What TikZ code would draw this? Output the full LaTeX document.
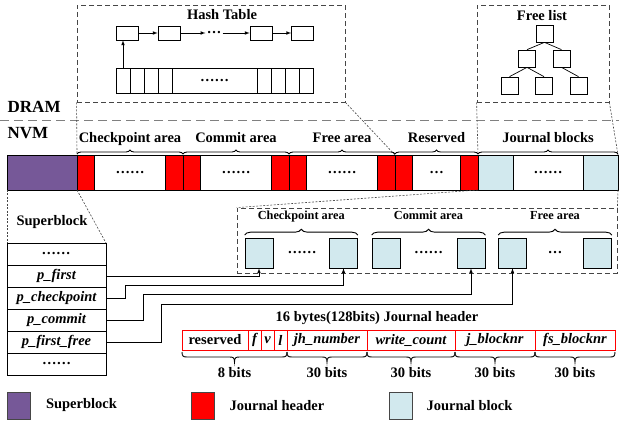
\documentclass[tikz,border=0pt]{standalone}
\usepackage{fontspec}
\setmainfont{Liberation Serif}
\usetikzlibrary{arrows,positioning,decorations.pathreplacing}
\definecolor{sbpurple}{RGB}{118,88,152}
\definecolor{jblue}{RGB}{210,233,238}
\definecolor{dgray}{RGB}{70,70,70}
\newcommand{\mainfs}{\fontsize{14.5}{17}\selectfont}
\newcommand{\bigfs}{\fontsize{17}{20}\selectfont}
\newcommand{\smallfs}{\fontsize{12.3}{14}\selectfont}
\newcommand{\bitbrace}[2]{\draw[line width=0.9pt] (#1,352) .. controls (#1,356.5) and ({#1+1.5},357) .. ({#1+5},357) -- ({(#1+#2)/2-5},357) .. controls ({(#1+#2)/2-1.5},357) and ({(#1+#2)/2},357.5) .. ({(#1+#2)/2},362) .. controls ({(#1+#2)/2},357.5) and ({(#1+#2)/2+1.5},357) .. ({(#1+#2)/2+5},357) -- ({#2-5},357) .. controls ({#2-1.5},357) and (#2,356.5) .. (#2,352);}

\begin{document}
\begin{tikzpicture}[x=1pt,y=-1pt,line width=0.7pt,font=\bfseries\mainfs]
\tikzstyle{cell}=[rectangle, draw=black, minimum height=35pt, inner sep=0pt, outer sep=0pt]
\tikzstyle{hdr}=[cell, fill=red, minimum width=17.5pt]
\tikzstyle{blk}=[cell, fill=jblue, minimum width=35pt]
\tikzstyle{gap}=[cell, fill=white, minimum width=71pt]
\tikzstyle{dbox}=[rectangle, draw=dgray, dash pattern=on 5pt off 3pt, line width=0.8pt]
\tikzstyle{dotln}=[draw=dgray, dash pattern=on 2pt off 1.5pt, line width=0.6pt]
\tikzstyle{brc}=[decorate, decoration={brace, amplitude=4pt, raise=1pt}, line width=0.9pt]
\tikzstyle{key}=[rectangle, draw=black, minimum width=22pt, minimum height=14pt, inner sep=0pt]
\tikzstyle{slot}=[rectangle, draw=black, minimum width=14pt, minimum height=25pt, inner sep=0pt, outer sep=0pt]
\tikzstyle{leaf}=[rectangle, draw=black, minimum width=17pt, minimum height=17pt, inner sep=0pt]
\tikzstyle{row}=[rectangle, draw=black, minimum width=99pt, minimum height=22pt, inner sep=0pt, outer sep=0pt, font=\bfseries\itshape\mainfs]
\tikzstyle{jb}=[rectangle, draw=black, fill=jblue, minimum width=28pt, minimum height=30pt, inner sep=0pt]
\tikzstyle{fld}=[rectangle, draw=red, minimum height=20pt, inner sep=0pt, outer sep=0pt, font=\bfseries\itshape\mainfs]
\tikzstyle{lgd}=[rectangle, draw=dgray, minimum width=23pt, minimum height=27pt]
\useasboundingbox (0,0) rectangle (619,422);

\node (dram) [anchor=west, font=\bfseries\bigfs] at (4,107) {DRAM};
\node (nvm) [anchor=west, font=\bfseries\bigfs] at (4,133) {NVM};
\draw[draw=gray, dash pattern=on 9pt off 5pt, line width=0.9pt] (0,120) -- (619,120);

\node (hashbox) [dbox, minimum width=268pt, minimum height=97pt] at (211,53.5) {};
\node (hashtitle) at (222,15) {Hash Table};
\node (k1) [key] at (127,33) {};
\node (k2) [key] at (169,33) {};
\node (hd) [inner sep=1pt] at (214,33) {…};
\node (k3) [key] at (261,33) {};
\node (k4) [key] at (302.5,33) {};
\draw[-latex] (k1) -- (k2);
\draw[-latex] (k2) -- (k2 -| hd.west);
\draw[-latex] (k3 -| hd.east) -- (k3);
\draw[-latex] (k3) -- (k4);
\node (a1) [slot] at (123,80.5) {};
\node (a2) [slot, right=0pt of a1] {};
\node (a3) [slot, right=0pt of a2] {};
\node (a4) [slot, right=0pt of a3] {};
\node (a5) [slot, minimum width=85pt, right=0pt of a4] {……};
\node (a6) [slot, right=0pt of a5] {};
\node (a7) [slot, right=0pt of a6] {};
\node (a8) [slot, right=0pt of a7] {};
\node (a9) [slot, right=0pt of a8] {};
\draw[-latex] (a1.north) -- (a1.north |- k1.south);

\node (freebox) [dbox, minimum width=132pt, minimum height=97pt] at (543,53.5) {};
\node (freetitle) at (542,15.5) {Free list};
\node (t0) [leaf] at (544.5,33.5) {};
\node (t1) [leaf] at (527,58.5) {};
\node (t2) [leaf] at (561.5,58.5) {};
\node (t3) [leaf] at (509.5,85.5) {};
\node (t4) [leaf] at (544,85.5) {};
\node (t5) [leaf] at (578.5,85.5) {};
\draw (t0.south) -- (t1.north);
\draw (t0.south) -- (t2.north);
\draw (t1.south) -- (t3.north);
\draw (t1.south) -- (t4.north);
\draw (t2.south) -- (t5.north);

\node (sb) [cell, fill=sbpurple, minimum width=70pt] at (42,172.5) {};
\node (h1) [hdr, right=0pt of sb] {};
\node (c1) [gap, right=0pt of h1] {……};
\node (h2) [hdr, right=0pt of c1] {};
\node (h3) [hdr, right=0pt of h2] {};
\node (c2) [gap, right=0pt of h3] {……};
\node (h4) [hdr, right=0pt of c2] {};
\node (h5) [hdr, right=0pt of h4] {};
\node (c3) [gap, right=0pt of h5] {……};
\node (h6) [hdr, right=0pt of c3] {};
\node (h7) [hdr, right=0pt of h6] {};
\node (c4) [gap, minimum width=48pt, right=0pt of h7] {…};
\node (h8) [hdr, right=0pt of c4] {};
\node (b1) [blk, right=0pt of h8] {};
\node (c5) [gap, minimum width=70pt, right=0pt of b1] {……};
\node (b2) [blk, right=0pt of c5] {};

\draw[brc] (h1.north west) -- (h3.north west) node (lchk) [midway, anchor=base, yshift=12pt] {Checkpoint area};
\draw[brc] (h3.north west) -- (h5.north west) node (lcom) [midway, anchor=base, yshift=12pt] {Commit area};
\draw[brc] (h5.north west) -- (h7.north west) node (lfre) [midway, anchor=base, yshift=12pt] {Free area};
\draw[brc] (h7.north west) -- (b1.north west) node (lres) [midway, anchor=base, yshift=12pt] {Reserved};
\draw[brc] (b1.north west) -- (b2.north east) node (ljb) [midway, anchor=base, yshift=12pt] {Journal blocks};

\draw[dotln] (hashbox.south west) -- (h1.north west);
\draw[dotln] (hashbox.south east) -- (h7.north west);
\draw[dotln] (freebox.south west) -- (b1.north west);
\draw[dotln] (freebox.south east) -- (b2.north east);

\node (sblabel) at (52,222) {Superblock};
\node (r0) [row] at (56.5,254) {……};
\node (rfirst) [row, below=0pt of r0] {p\_first};
\node (rcheck) [row, below=0pt of rfirst] {p\_checkpoint};
\node (rcommit) [row, below=0pt of rcheck] {p\_commit};
\node (rfree) [row, below=0pt of rcommit] {p\_first\_free};
\node (r5) [row, below=0pt of rfree, font=\bfseries\mainfs] {……};
\draw[dotln] (sb.south west) -- (r0.north west);
\draw[dotln] (sb.south east) -- (r0.north east);

\node (jbox) [dbox, minimum width=380pt, minimum height=65pt] at (427,240.5) {};
\draw[dotln] (h8.south east) -- (jbox.north west);
\draw[dotln] (b2.south east) -- (jbox.north east);
\node (j1) [jb] at (259,253) {};
\node (jd1) at (302,253) {……};
\node (j2) [jb] at (343.5,253) {};
\node (j3) [jb] at (386,253) {};
\node (jd2) at (428.5,253) {……};
\node (j4) [jb] at (471,253) {};
\node (j5) [jb] at (512.5,253) {};
\node (jd3) at (555,253) {…};
\node (j6) [jb] at (597.5,253) {};
\draw[brc, decoration={amplitude=6pt, raise=2.5pt}] (j1.north west) -- (j2.north east) node (ljchk) [midway, anchor=base, yshift=18pt, font=\bfseries\smallfs] {Checkpoint area};
\draw[brc, decoration={amplitude=6pt, raise=2.5pt}] (j3.north west) -- (j4.north east) node (ljcom) [midway, anchor=base, yshift=18pt, font=\bfseries\smallfs] {Commit area};
\draw[brc, decoration={amplitude=6pt, raise=2.5pt}] (j5.north west) -- (j6.north east) node (ljfre) [midway, anchor=base, yshift=18pt, font=\bfseries\smallfs] {Free area};

\coordinate (bk1) at (125,285);
\coordinate (bk2) at (143,294);
\coordinate (bk3) at (161,304);
\draw[-latex] (rfirst.east) -| (j1.south);
\draw[-latex] (rcheck.east) -| (bk1) -| (j2.south);
\draw[-latex] (rcommit.east) -| (bk2) -| (j4.south);
\draw[-latex] (rfree.east) -| (bk3) -| (j5.south);

\node (jhtitle) at (377,318) {16 bytes(128bits) Journal header};
\node (fres) [fld, minimum width=66pt, font=\bfseries\mainfs] at (215,340) {reserved};
\node (ff) [fld, minimum width=13pt, right=0pt of fres] {f};
\node (fv) [fld, minimum width=13pt, right=0pt of ff] {v};
\node (fl) [fld, minimum width=13pt, right=0pt of fv] {l};
\node (fjh) [fld, minimum width=80pt, right=0pt of fl] {jh\_number};
\node (fwc) [fld, minimum width=88pt, right=0pt of fjh] {write\_count};
\node (fjb) [fld, minimum width=80pt, right=0pt of fwc] {j\_blocknr};
\node (ffs) [fld, minimum width=80pt, right=0pt of fjb] {fs\_blocknr};
\bitbrace{182}{287}
\bitbrace{287}{367}
\bitbrace{367}{455}
\bitbrace{455}{535}
\bitbrace{535}{615}
\node (w1) [below=14pt of fres.south east, xshift=-13.5pt] {8 bits};
\node (w2) [below=14pt of fjh.south] {30 bits};
\node (w3) [below=14pt of fwc.south] {30 bits};
\node (w4) [below=14pt of fjb.south] {30 bits};
\node (w5) [below=14pt of ffs.south] {30 bits};

\node (lg1) [lgd, fill=sbpurple] at (18.5,405.5) {};
\node (lt1) [right=12pt of lg1] {Superblock};
\node (lg2) [lgd, fill=red] at (203,405.5) {};
\node (lt2) [right=11pt of lg2] {Journal header};
\node (lg3) [lgd, fill=jblue] at (401,405.5) {};
\node (lt3) [right=10pt of lg3] {Journal block};
\end{tikzpicture}
\end{document}
